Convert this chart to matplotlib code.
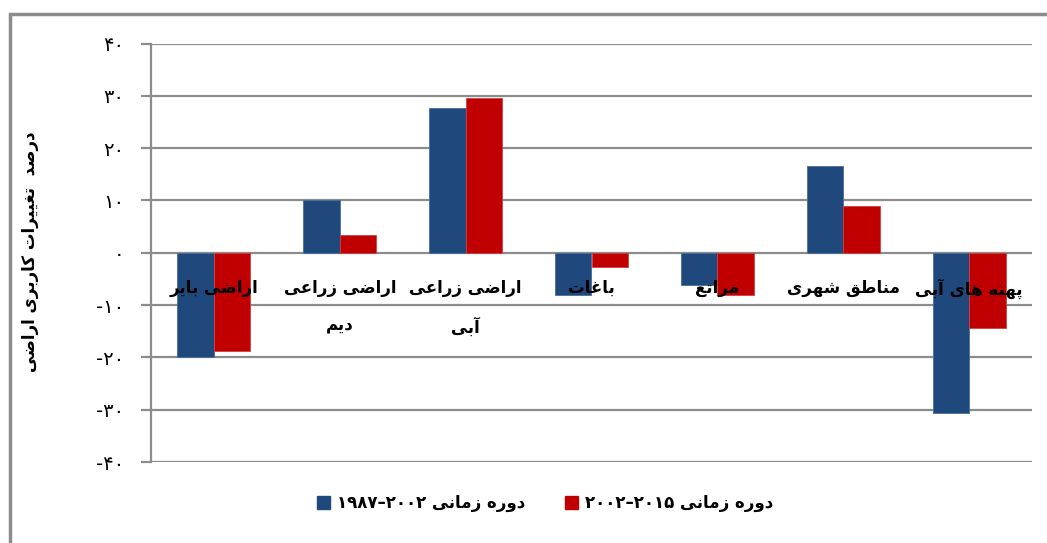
import numpy as np
import matplotlib
matplotlib.use('Agg')
import matplotlib.pyplot as plt
from matplotlib.patches import Rectangle, Patch

# data
categories = ["اراضی بایر", "اراضی زراعی\nدیم", "اراضی زراعی\nآبی", "باغات",
              "مراتع", "مناطق شهری", "پهنه های آبی"]
period1 = [-20.0, 10.1, 27.7, -8.0, -6.2, 16.5, -30.7]
period2 = [-18.7, 3.4, 29.6, -2.7, -8.0, 9.0, -14.3]
period_names = ["۱۹۸۷–۲۰۰۲", "۲۰۰۲–۲۰۱۵"]
period_word = "دوره زمانی"
ylabel = "درصد  تغییرات کاربری اراضی"
yticks = [40, 30, 20, 10, 0, -10, -20, -30, -40]

# presentation forms: isolated, final, initial, medial
forms = {
    'ا': ('\uFE8D', '\uFE8E'), 'آ': ('\uFE81', '\uFE82'),
    'د': ('\uFEA9', '\uFEAA'), 'ر': ('\uFEAD', '\uFEAE'),
    'ز': ('\uFEAF', '\uFEB0'), 'و': ('\uFEED', '\uFEEE'),
    'ب': ('\uFE8F', '\uFE90', '\uFE91', '\uFE92'),
    'پ': ('\uFB56', '\uFB57', '\uFB58', '\uFB59'),
    'ت': ('\uFE95', '\uFE96', '\uFE97', '\uFE98'),
    'ش': ('\uFEB5', '\uFEB6', '\uFEB7', '\uFEB8'),
    'ص': ('\uFEB9', '\uFEBA', '\uFEBB', '\uFEBC'),
    'ض': ('\uFEBD', '\uFEBE', '\uFEBF', '\uFEC0'),
    'ط': ('\uFEC1', '\uFEC2', '\uFEC3', '\uFEC4'),
    'ع': ('\uFEC9', '\uFECA', '\uFECB', '\uFECC'),
    'غ': ('\uFECD', '\uFECE', '\uFECF', '\uFED0'),
    'ق': ('\uFED5', '\uFED6', '\uFED7', '\uFED8'),
    'ک': ('\uFB8E', '\uFB8F', '\uFB90', '\uFB91'),
    'م': ('\uFEE1', '\uFEE2', '\uFEE3', '\uFEE4'),
    'ن': ('\uFEE5', '\uFEE6', '\uFEE7', '\uFEE8'),
    'ه': ('\uFEE9', '\uFEEA', '\uFEEB', '\uFEEC'),
    'ی': ('\uFBFC', '\uFBFD', '\uFBFE', '\uFBFF'),
}

def rtl(s):
    # shape persian letters and reverse for left-to-right drawing
    out = []
    for i, c in enumerate(s):
        if c not in forms:
            out.append(c)
            continue
        prev = s[i-1] if i > 0 else ''
        nxt = s[i+1] if i < len(s)-1 else ''
        jp = prev in forms and len(forms[prev]) == 4
        jn = len(forms[c]) == 4 and nxt in forms
        f = forms[c]
        if jp and jn:
            out.append(f[3])
        elif jp:
            out.append(f[1])
        elif jn:
            out.append(f[2])
        else:
            out.append(f[0])
    return ''.join(out[::-1])

def fa_num(v):
    digits = '۰۱۲۳۴۵۶۷۸۹'
    s = ''.join(digits[int(d)] for d in str(abs(v)))
    return ('-' if v < 0 else '') + s

blue = '#1F497D'
red = '#C00000'
grid = '#8C8C8C'

fig = plt.figure(figsize=(10.47, 5.43), dpi=100)
ax = fig.add_axes([151/1047, 1-462/543, (1032-151)/1047, (462-43.5)/543])

x = np.arange(len(categories))
w = 0.29
ax.bar(x - w/2, period1, w, color=blue, edgecolor='#4A6E9A', lw=0.6, zorder=2)
ax.bar(x + w/2, period2, w, color=red, edgecolor='#D04040', lw=0.6, zorder=2)

ax.set_xlim(-0.5, len(categories)-0.5)
ax.set_ylim(-40, 40)
ax.set_yticks(yticks)
ax.set_yticklabels([fa_num(v) for v in yticks], fontsize=14, family='DejaVu Sans')
for v in yticks:
    ax.axhline(v, color=grid, lw=1.6, zorder=1)
ax.set_xticks([])
for s in ['top', 'right', 'bottom']:
    ax.spines[s].set_visible(False)
ax.spines['left'].set_color(grid)
ax.spines['left'].set_linewidth(1.6)
ax.tick_params(axis='y', length=7, width=1.6, color=grid, pad=12)

for i, name in enumerate(categories):
    txt = '\n'.join(rtl(line) for line in name.split('\n'))
    ax.text(i, -5.0, txt, ha='center', va='top', fontsize=12, fontweight='bold',
            linespacing=2.35, zorder=3)

fig.text(30/1047, 1-252/543, rtl(ylabel), rotation=90, ha='center', va='center',
         fontsize=12, fontweight='bold')

handles = [Patch(color=blue), Patch(color=red)]
labels = [p + ' ' + rtl(period_word) for p in period_names]
fig.legend(handles, labels, ncol=2, loc='center', bbox_to_anchor=(545/1047, 1-503/543),
           frameon=False, prop={'size': 12, 'weight': 'bold'}, handlelength=0.8,
           handleheight=0.8, columnspacing=2.4, handletextpad=0.4)

fig.patches.append(Rectangle((10/1047, -0.1), 2, 1-14/543+0.1, transform=fig.transFigure,
                             fill=False, edgecolor=grid, lw=2.5))

fig.savefig('out.png', dpi=100)
